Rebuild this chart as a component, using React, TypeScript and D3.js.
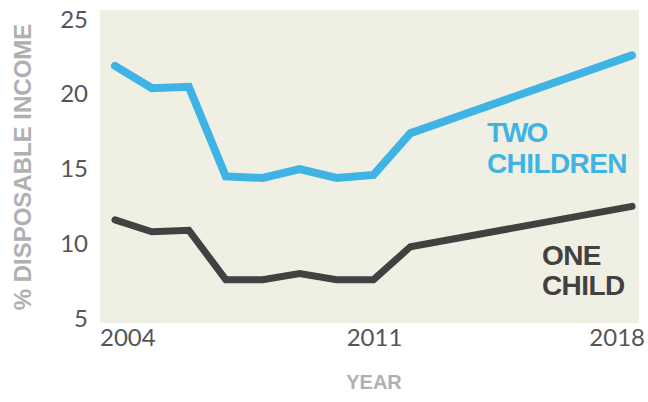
import React from "react";
import * as d3 from "d3";

const years = [2004, 2005, 2006, 2007, 2008, 2009, 2010, 2011, 2012, 2018];
const twoChildren = [21.8, 20.3, 20.4, 14.4, 14.3, 14.9, 14.3, 14.5, 17.3, 22.5];
const oneChild = [11.5, 10.7, 10.8, 7.5, 7.5, 7.9, 7.5, 7.5, 9.7, 12.4];
const yTicks = [5, 10, 15, 20, 25];
const xTicks = [2004, 2011, 2018];

const W = 648;
const H = 402;
const plot = { left: 100, right: 639, top: 10, bottom: 323 };

export default function App() {
  const x = d3.scaleLinear().domain([2004, 2018]).range([115, 632]);
  const y = d3.scaleLinear().domain([5, 25]).range([317, 18]);
  const line = d3
    .line<number>()
    .x((_, i) => x(years[i]))
    .y((d) => y(d));

  const tickFont = "Lato, 'Liberation Sans', sans-serif";
  const labelFont = "'Liberation Sans', Arial, sans-serif";

  const xLabelProps = (t: number) =>
    t === 2004
      ? { x: x(t) - 15, anchor: "start" }
      : t === 2018
      ? { x: 645, anchor: "end" }
      : { x: x(t) + 1, anchor: "middle" };

  return (
    <svg
      width={W}
      height={H}
      style={{ position: "absolute", left: 0, top: 0, background: "#fff" }}
    >
      <rect x={0} y={0} width={W} height={H} fill="#ffffff" />
      <rect
        x={plot.left}
        y={plot.top}
        width={plot.right - plot.left}
        height={plot.bottom - plot.top}
        fill="#f0efe4"
      />
      {yTicks.map((t) => (
        <text
          key={t}
          x={88}
          y={y(t)}
          textAnchor="end"
          dominantBaseline="central"
          fontFamily={tickFont}
          fontSize={24}
          fill="#555555"
        >
          {t}
        </text>
      ))}
      {xTicks.map((t) => {
        const p = xLabelProps(t);
        return (
          <text
            key={t}
            x={p.x}
            y={346}
            textAnchor={p.anchor}
            fontFamily={tickFont}
            fontSize={24}
            fill="#555555"
          >
            {t}
          </text>
        );
      })}
      <text
        transform={`translate(31,167) rotate(-90)`}
        textAnchor="middle"
        fontFamily={labelFont}
        fontWeight="bold"
        fontSize={24}
        fill="#b0b0b0"
      >
        % DISPOSABLE INCOME
      </text>
      <text
        x={374}
        y={389}
        textAnchor="middle"
        fontFamily={labelFont}
        fontWeight="bold"
        fontSize={20}
        fill="#b0b0b0"
      >
        YEAR
      </text>
      <path
        d={line(oneChild) || ""}
        fill="none"
        stroke="#414141"
        strokeWidth={7}
        strokeLinecap="round"
        strokeLinejoin="miter"
      />
      <path
        d={line(twoChildren) || ""}
        fill="none"
        stroke="#3fb4e4"
        strokeWidth={8}
        strokeLinecap="round"
        strokeLinejoin="miter"
      />
      <text
        x={487}
        y={142}
        fontFamily={labelFont}
        fontSize={28}
        fontWeight="bold"
        fill="#3fb4e4"
        letterSpacing={-2}
      >
        TWO
      </text>
      <text
        x={487}
        y={173}
        fontFamily={labelFont}
        fontSize={28}
        fontWeight="bold"
        fill="#3fb4e4"
        letterSpacing={-0.6}
      >
        CHILDREN
      </text>
      <text
        x={542}
        y={265}
        fontFamily={labelFont}
        fontSize={28}
        fontWeight="bold"
        fill="#414141"
        letterSpacing={-0.6}
      >
        ONE
      </text>
      <text
        x={542}
        y={295}
        fontFamily={labelFont}
        fontSize={28}
        fontWeight="bold"
        fill="#414141"
        letterSpacing={-0.6}
      >
        CHILD
      </text>
    </svg>
  );
}
